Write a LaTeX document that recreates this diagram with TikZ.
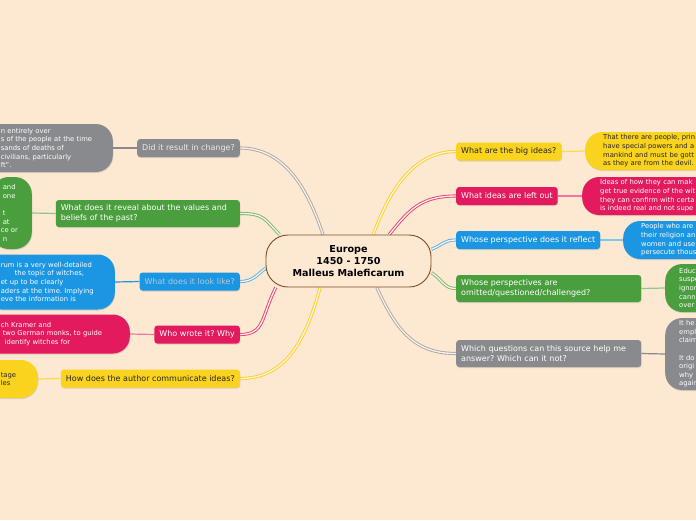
\documentclass[tikz,border=0pt]{standalone}
\usepackage{fontspec}
\setmainfont{DejaVu Sans}
\usetikzlibrary{backgrounds,shadows}
\frenchspacing

\definecolor{paper}{RGB}{253,232,210}
\definecolor{mmyellow}{RGB}{249,211,30}
\definecolor{mmpink}{RGB}{228,26,94}
\definecolor{mmblue}{RGB}{27,150,226}
\definecolor{mmgreen}{RGB}{74,158,62}
\definecolor{mmgrey}{RGB}{137,138,142}
\definecolor{mmbrown}{RGB}{125,78,36}
\definecolor{mmfaint}{RGB}{185,200,214}

\begin{document}
\begin{tikzpicture}[x=1pt, y=-1pt,
  branch/.style={rounded corners=3pt, inner xsep=5pt, inner ysep=2pt, minimum height=18pt, align=left,
    font=\fontsize{8}{10}\selectfont, drop shadow={opacity=0.25, shadow xshift=0.5pt, shadow yshift=-1pt}},
  leaf/.style={rounded corners=17pt, inner ysep=0pt, align=left, font=\fontsize{6.8}{8.6}\selectfont,
    drop shadow={opacity=0.25, shadow xshift=0.5pt, shadow yshift=-1pt}},
  rightleaf/.style={leaf, anchor=west, text width=160pt},
  leftleaf/.style={leaf, anchor=east},
  twig/.style={line width=1.2pt},
  limb/.style={line width=0.9pt, double=paper!60!white, double distance=1.3pt}]
\path[use as bounding box] (0,0) rectangle (696,520);
\clip (0,0) rectangle (696,520);

\node[draw=mmbrown, line width=0.9pt, fill=paper, rounded corners=22pt, minimum width=165pt, minimum height=52pt,
  align=center, font=\bfseries\fontsize{9.6}{12}\selectfont] (europe) at (348.5,261) {Europe\\1450 - 1750\\Malleus Maleficarum};

\node[branch, fill=mmyellow, text=black!85, anchor=west] (bigideas) at (456,151.5) {What are the big ideas?};
\node[branch, fill=mmpink, text=white, anchor=west] (leftout) at (456,196) {What ideas are left out};
\node[branch, fill=mmblue, text=white, anchor=west] (reflect) at (456,240) {Whose perspective does it reflect};
\node[branch, fill=mmgreen, text=white, anchor=west, minimum height=27pt, text width=175pt] (omitted) at (456,288.5) {Whose perspectives are\\omitted/questioned/challenged?};
\node[branch, fill=mmgrey, text=white, anchor=west, minimum height=27pt, text width=175pt] (questions) at (456,353.5) {Which questions can this source help me\\answer? Which can it not?};

\node[branch, fill=mmgrey, text=white!92!black, anchor=east] (change) at (240,148) {Did it result in change?};
\node[branch, fill=mmgreen, text=white, anchor=east, minimum height=27pt, text width=174pt] (reveal) at (240,213.5) {What does it reveal about the values and\\beliefs of the past?};
\node[branch, fill=mmblue, text=mmfaint, anchor=east] (looklike) at (240,281.5) {What does it look like?};
\node[branch, fill=mmpink, text=white, anchor=east] (whowrote) at (240,334.5) {Who wrote it? Why};
\node[branch, fill=mmyellow, text=black!85, anchor=east] (communicate) at (240,378.5) {How does the author communicate ideas?};

\node[rightleaf, fill=mmyellow, text=black!85, inner xsep=18pt, minimum height=38pt] (ideasleaf) at (585,151) {That there are people, prin\\have special powers and a\\mankind and must be gott\\as they are from the devil.};
\node[rightleaf, fill=mmpink, text=white, inner xsep=18pt, minimum height=38pt] (leftoutleaf) at (582,196) {Ideas of how they can mak\\get true evidence of the wit\\they can confirm with certa\\is indeed real and not supe};
\node[rightleaf, fill=mmblue, text=white, inner xsep=18pt, minimum height=38pt] (reflectleaf) at (623,240) {People who are\\their religion an\\women and use\\persecute thous};
\node[rightleaf, fill=mmgreen, text=white, inner xsep=14pt, minimum height=48pt] (omittedleaf) at (665,288) {Educ\\suspe\\ignor\\canni\\over};
\node[rightleaf, fill=mmgrey, text=white, inner xsep=14pt, minimum height=72pt] (questionsleaf) at (665,354) {It he\\empl\\claim\\[8.6pt]It do\\origi\\why\\again};

\node[leftleaf, fill=mmgrey, text=white, inner xsep=18pt, text width=94pt, minimum height=48pt] (changeleaf) at (113,148) {n entirely over\\s of the people at the time\\sands of deaths of\\civilians, particularly\\ft”.};
\node[leftleaf, fill=mmgreen, text=white, inner xsep=9pt, text width=22pt, minimum height=72pt] (revealleaf) at (32,213) {\hspace{2pt}and\\\hspace{2pt}one\\[8.6pt]\hspace{2pt}t\\\hspace{2pt}at\\ce or\\\hspace{2pt}n};
\node[leftleaf, fill=mmblue, text=white, inner xsep=16pt, text width=98pt, minimum height=55pt] (looklikeleaf) at (115,282) {rum is a very well-detailed\\\hspace{14pt}the topic of witches,\\et up to be clearly\\aders at the time. Implying\\eve the information is};
\node[leftleaf, fill=mmpink, text=white, inner xsep=18pt, text width=111pt, minimum height=39pt] (whowroteleaf) at (130,334) {ch Kramer and\\\hspace{2pt}two German monks, to guide\\\hspace{4pt}identify witches for};
\node[leftleaf, fill=mmyellow, text=black!85, inner xsep=16pt, text width=21pt, minimum height=38pt] (communicateleaf) at (38,379) {tage\\les};

\begin{pgfonlayer}{background}
\fill[paper] (0,0) rectangle (696,520);
\draw[limb, mmyellow] (europe.47) .. controls +(15,-40) and +(-45,0) .. (bigideas.west);
\draw[limb, mmpink!85] (europe.33) .. controls +(20,-25) and +(-35,0) .. (leftout.west);
\draw[limb, mmblue!75] (europe.8) .. controls +(12,-5) and +(-12,0) .. (reflect.west);
\draw[limb, mmgreen!75] (europe.-8) .. controls +(12,8) and +(-12,0) .. (omitted.west);
\draw[limb, mmgrey!75] (europe.-43) .. controls +(20,45) and +(-40,0) .. (questions.west);
\draw[limb, mmgrey!75] (europe.134) .. controls +(-15,-45) and +(45,0) .. (change.east);
\draw[limb, mmgreen!75] (europe.159) .. controls +(-15,-15) and +(25,0) .. (reveal.east);
\draw[limb, mmblue!75] (europe.185) .. controls +(-10,8) and +(12,0) .. (looklike.east);
\draw[limb, mmpink!85] (europe.200) .. controls +(-15,30) and +(25,0) .. (whowrote.east);
\draw[limb, mmyellow] (europe.223) .. controls +(-15,55) and +(45,0) .. (communicate.east);
\draw[twig, mmyellow!80] (bigideas.east) -- (ideasleaf.west);
\draw[twig, mmpink!60] (leftout.east) -- (leftoutleaf.west);
\draw[twig, mmblue!55] (reflect.east) -- (reflectleaf.west);
\draw[twig, mmgreen!60] (omitted.east) -- (omittedleaf.west);
\draw[twig, mmgrey] (questions.east) -- (questionsleaf.west);
\draw[twig, mmgrey] (change.west) -- (changeleaf.east);
\draw[twig, mmgreen!60] (reveal.west) -- (revealleaf.east);
\draw[twig, mmblue] (looklike.west) -- (looklikeleaf.east);
\draw[twig, mmpink!60] (whowrote.west) -- (whowroteleaf.east);
\draw[twig, mmyellow!80] (communicate.west) -- (communicateleaf.east);
\end{pgfonlayer}
\end{tikzpicture}
\end{document}
